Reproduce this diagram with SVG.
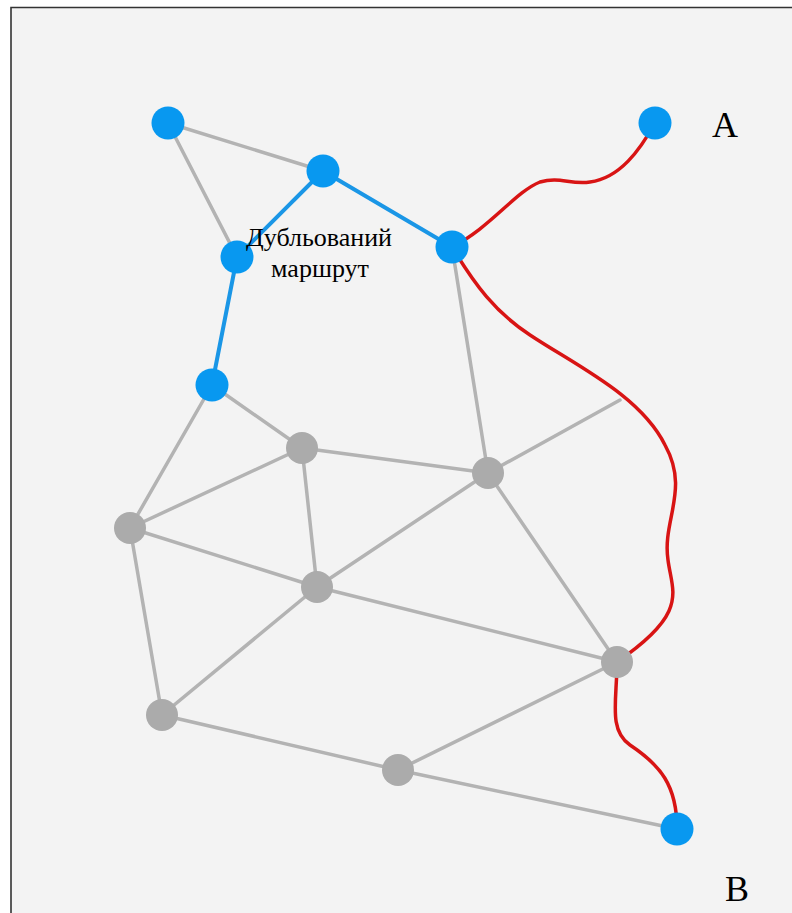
<svg xmlns="http://www.w3.org/2000/svg" width="792" height="913" viewBox="0 0 792 913">
<style>
.bg{fill:#f3f3f3}
.frame{fill:none;stroke:#333;stroke-width:1.6}
.e{stroke:#b3b3b3;stroke-width:3.5;stroke-linecap:round;fill:none}
.eb{stroke:#1a96e6;stroke-width:4;stroke-linecap:round;fill:none}
.er{stroke:#d81414;stroke-width:3.5;stroke-linecap:round;fill:none}
.nb{fill:#0898f0}
.ng{fill:#ababab}
.lbl{font-family:"Liberation Serif","Times New Roman",serif;fill:#000}
</style>
<rect class="bg" x="11" y="8" width="781" height="905"/>
<path class="frame" d="M11 913 V7.5 H792"/>
<g id="connectors">
<line class="e" x1="168" y1="123" x2="323" y2="171"/>
<line class="e" x1="168" y1="123" x2="237" y2="257"/>
<line class="e" x1="452" y1="247" x2="488" y2="473"/>
<line class="e" x1="212" y1="385" x2="302" y2="448"/>
<line class="e" x1="212" y1="385" x2="130" y2="528"/>
<line class="e" x1="302" y1="448" x2="488" y2="473"/>
<line class="e" x1="302" y1="448" x2="130" y2="528"/>
<line class="e" x1="302" y1="448" x2="317" y2="587"/>
<line class="e" x1="130" y1="528" x2="317" y2="587"/>
<line class="e" x1="317" y1="587" x2="617" y2="662"/>
<line class="e" x1="317" y1="587" x2="488" y2="473"/>
<line class="e" x1="488" y1="473" x2="617" y2="662"/>
<line class="e" x1="488" y1="473" x2="620" y2="400"/>
<line class="e" x1="130" y1="528" x2="162" y2="715"/>
<line class="e" x1="317" y1="587" x2="162" y2="715"/>
<line class="e" x1="162" y1="715" x2="398" y2="770"/>
<line class="e" x1="398" y1="770" x2="617" y2="662"/>
<line class="e" x1="398" y1="770" x2="677" y2="829"/>
<line class="eb" x1="323" y1="171" x2="237" y2="257"/>
<line class="eb" x1="323" y1="171" x2="452" y2="247"/>
<line class="eb" x1="237" y1="257" x2="212" y2="385"/>
<path class="er" d="M655 123 C640 150,620 178,590 182 C570 185,560 176,540 182 C515 192,490 228,452 247"/>
<path class="er" d="M452 247 C475 285,495 312,530 335 C575 365,640 395,665 445 C690 490,662 520,668 560 C672 592,690 612,617 662"/>
<path class="er" d="M617 662 C617 700,608 730,630 745 C660 765,677 785,677 829"/>
</g>
<g id="n1"><circle class="nb" cx="168" cy="123" r="16.5"/></g>
<g id="n2"><circle class="nb" cx="323" cy="171" r="16.5"/></g>
<g id="n3"><circle class="nb" cx="237" cy="257" r="16.5"/></g>
<g id="n4"><circle class="nb" cx="452" cy="247" r="16.5"/></g>
<g id="n5"><circle class="nb" cx="212" cy="385" r="16.5"/></g>
<g id="nA"><circle class="nb" cx="655" cy="123" r="16.5"/></g>
<g id="nB"><circle class="nb" cx="677" cy="829" r="16.5"/></g>
<g id="g1"><circle class="ng" cx="302" cy="448" r="16"/></g>
<g id="g2"><circle class="ng" cx="488" cy="473" r="16"/></g>
<g id="g3"><circle class="ng" cx="130" cy="528" r="16"/></g>
<g id="g4"><circle class="ng" cx="317" cy="587" r="16"/></g>
<g id="g5"><circle class="ng" cx="617" cy="662" r="16"/></g>
<g id="g6"><circle class="ng" cx="162" cy="715" r="16"/></g>
<g id="g7"><circle class="ng" cx="398" cy="770" r="16"/></g>
<g id="label-route">
<text class="lbl" x="319" y="246" font-size="26" text-anchor="middle">Дубльований</text>
<text class="lbl" x="320" y="277" font-size="26" text-anchor="middle">маршрут</text>
</g>
<g id="label-A"><text class="lbl" x="725" y="137" font-size="36" text-anchor="middle">A</text></g>
<g id="label-B"><text class="lbl" x="737" y="901" font-size="36" text-anchor="middle">B</text></g>
</svg>
